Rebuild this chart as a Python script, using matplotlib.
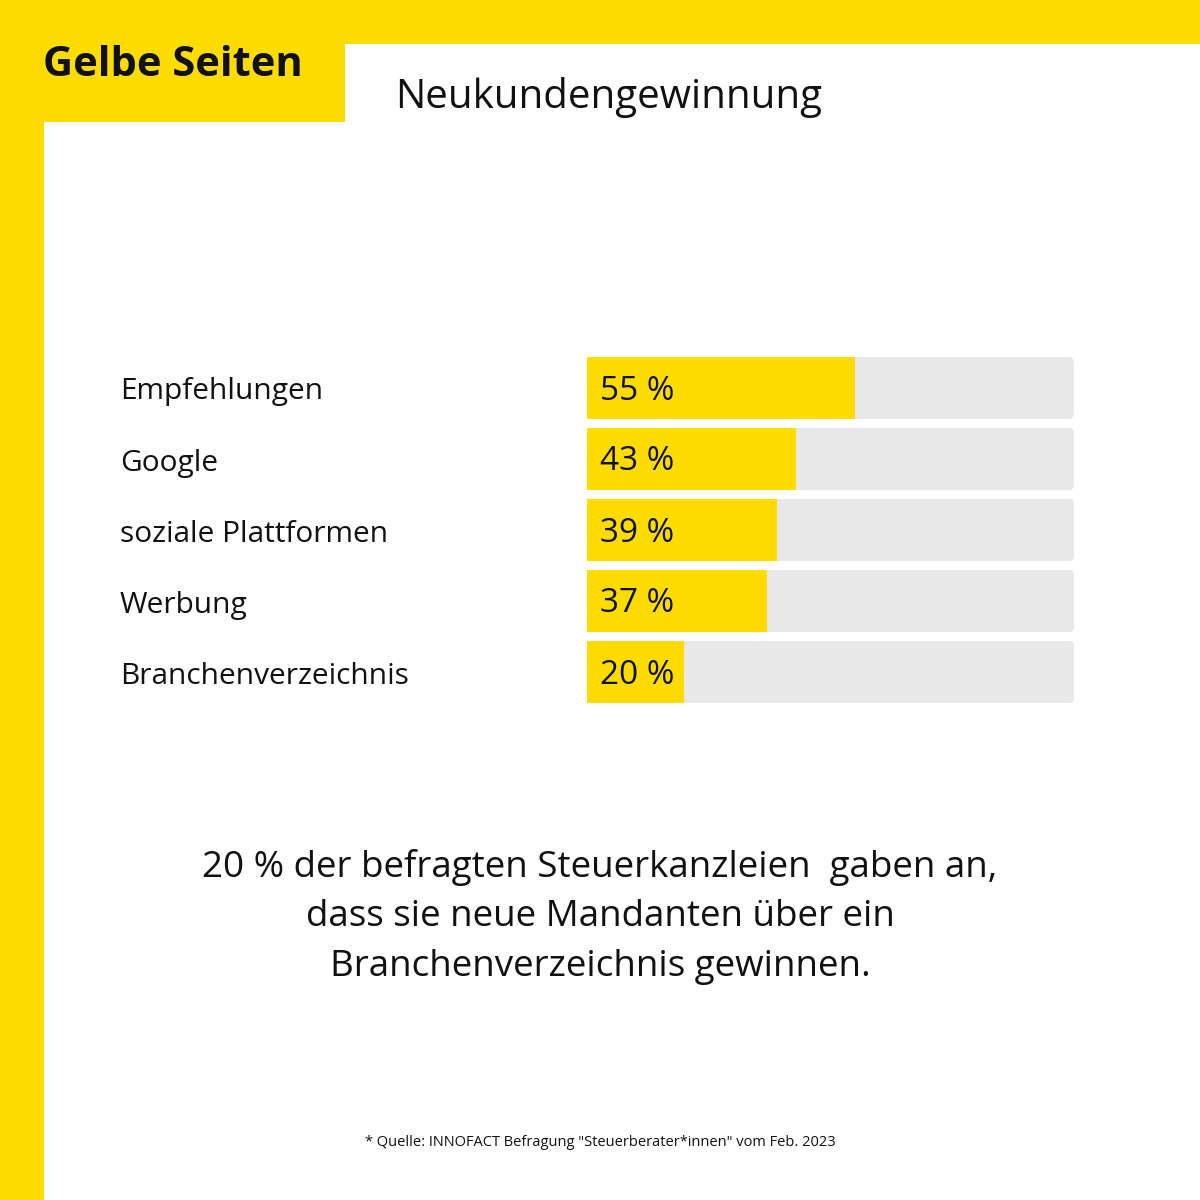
import matplotlib
matplotlib.use("Agg")
import matplotlib.pyplot as plt
from matplotlib.patches import Rectangle, FancyBboxPatch
from matplotlib import transforms

categories = ["Empfehlungen", "Google", "soziale Plattformen", "Werbung", "Branchenverzeichnis"]
values = [55, 43, 39, 37, 20]
value_labels = ["55 %", "43 %", "39 %", "37 %", "20 %"]
title = "Neukundengewinnung"
brand = "Gelbe Seiten"
summary = "20 % der befragten Steuerkanzleien  gaben an,\ndass sie neue Mandanten über ein\nBranchenverzeichnis gewinnen."
source = "* Quelle: INNOFACT Befragung \"Steuerberater*innen\" vom Feb. 2023"

YELLOW = "#FFDC00"
GREY = "#E8E8E8"
FONT = ["Open Sans", "DejaVu Sans"]

W = H = 1200
fig = plt.figure(figsize=(12, 12), dpi=100)
fig.patch.set_facecolor("white")

# background frame in pixel coords (y from top)
bg = fig.add_axes([0, 0, 1, 1])
bg.set_xlim(0, W)
bg.set_ylim(H, 0)
bg.axis("off")
bg.add_patch(Rectangle((0, 0), W, 44, color=YELLOW, lw=0))
bg.add_patch(Rectangle((0, 0), 44, H, color=YELLOW, lw=0))
bg.add_patch(Rectangle((0, 0), 345, 122, color=YELLOW, lw=0))
bg.text(43, 66, brand, fontsize=30, fontweight="bold", family=FONT, va="center", ha="left", color="#111111")
bg.text(395, 97, title, fontsize=29, family=FONT, va="center", ha="left", color="#111111")
bg.text(600, 917, summary, fontsize=26.5, family=FONT, va="center", ha="center",
        color="#111111", linespacing=1.5)
bg.text(600, 1142, source, fontsize=10.5, family=FONT, va="center", ha="center", color="#111111")

# bar axes
left, right = 587, 1074
top, bottom = 352.5, 707.5
ax = fig.add_axes([left / W, 1 - bottom / H, (right - left) / W, (bottom - top) / H])
ax.set_xlim(0, 100)
ax.set_ylim(len(categories) - 0.5, -0.5)
ax.axis("off")

bar_h = 62 / 71.0
px_x = (right - left) / 100.0
px_y = 71.0
for i, v in enumerate(values):
    track = FancyBboxPatch((0, i - bar_h / 2), 100, bar_h,
                           boxstyle="round,pad=0,rounding_size=%f" % (5 / px_x),
                           mutation_aspect=px_x / px_y, fc=GREY, ec="none")
    ax.add_patch(track)
ax.barh(range(len(values)), values, height=bar_h, color=YELLOW, zorder=3)

for i, lab in enumerate(value_labels):
    ax.text(13 / px_x, i + 3 / px_y, lab, fontsize=24, family=FONT, va="center", ha="left",
            color="#111111", zorder=4)

trans = transforms.blended_transform_factory(fig.transFigure, ax.transData)
for i, c in enumerate(categories):
    fig.text(120 / W, i + 4 / px_y, c, transform=trans, fontsize=21.5, family=FONT,
             va="center", ha="left", color="#111111")

fig.savefig("out.png", dpi=100)
